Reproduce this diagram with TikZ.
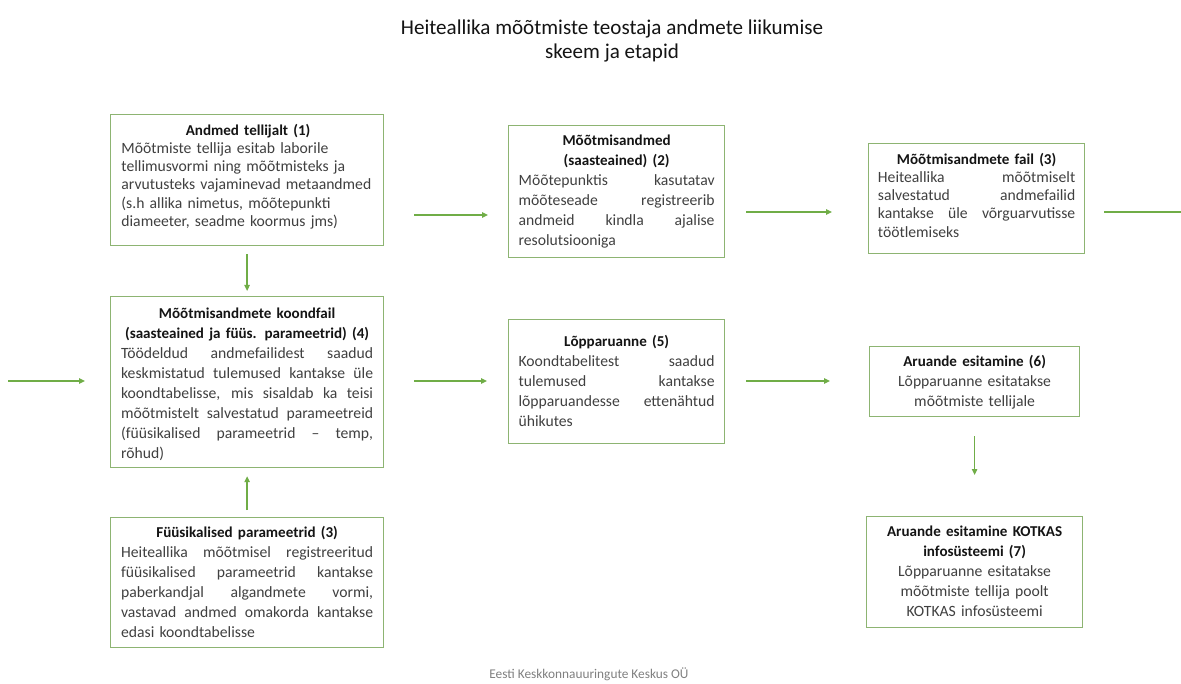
\documentclass[tikz,border=0pt]{standalone}
\usepackage{fontspec}
\setmainfont{Carlito}
\usetikzlibrary{arrows.meta,calc}
\definecolor{boxgreen}{HTML}{8DB472}
\definecolor{arrgreen}{HTML}{70AD47}
\definecolor{bodytext}{HTML}{404040}
\definecolor{headtext}{HTML}{141414}
\definecolor{foot}{HTML}{808080}
\newcommand{\hdg}[1]{{\centering\color{headtext}\fontsize{11.3}{\the\baselineskip}\selectfont\bfseries #1\par}}
\newcommand{\jl}[1]{\hbox to \hsize{\spaceskip=0.25em plus 3em\relax #1}}
\begin{document}
\begin{tikzpicture}[x=0.75pt,y=-0.75pt,
  stepbox/.style={draw=boxgreen, line width=0.9pt, inner sep=0pt, anchor=north west},
  boxtext/.style={anchor=north, inner sep=0pt, font=\fontsize{11.75}{13.7}\selectfont, text=bodytext},
  widetext/.style={boxtext, font=\fontsize{11.75}{15}\selectfont},
  arr/.style={draw=arrgreen, line width=1pt, -{Triangle[length=4.5pt,width=4pt]}},
  plainline/.style={draw=arrgreen, line width=1pt},
  ]
\useasboundingbox (0,0) rectangle (1181,684);
\fill[white] (0,0) rectangle (1181,684);

% title
\node[align=center, font=\fontsize{15.8}{18}\selectfont, text=headtext] (title) at (612,41)
  {Heiteallika mõõtmiste teostaja andmete liikumise\\skeem ja etapid};

% boxes
\node[stepbox, minimum width=204.75pt, minimum height=98.25pt] (b1) at (110,114) {};
\node[stepbox, minimum width=162pt, minimum height=99pt] (b2) at (508,125) {};
\node[stepbox, minimum width=162pt, minimum height=82.5pt] (b3) at (868,143) {};
\node[stepbox, minimum width=204.75pt, minimum height=128.25pt] (b4) at (110,296) {};
\node[stepbox, minimum width=204.75pt, minimum height=97.5pt] (bF) at (110,517) {};
\node[stepbox, minimum width=162pt, minimum height=93pt] (b5) at (508,319) {};
\node[stepbox, minimum width=157.5pt, minimum height=52.5pt] (b6) at (869,346) {};
\node[stepbox, minimum width=162pt, minimum height=83.25pt] (b7) at (866,516) {};

% texts
\node[boxtext, text width=190pt, align=left] (t1) at ([xshift=0.75pt, yshift=-6pt]b1.north)
  {\hdg{\strut Andmed tellijalt (1)}\raggedright
   Mõõtmiste tellija esitab laborile\\
   tellimusvormi ning mõõtmisteks ja\\
   arvutusteks vajaminevad metaandmed\\
   (s.h allika nimetus, mõõtepunkti\\
   diameeter, seadme koormus jms)};

\node[widetext, text width=147pt, align=left] (t2) at ([yshift=-5pt]b2.north)
  {\hdg{\strut Mõõtmisandmed\\(saasteained) (2)}%
   \jl{Mõõtepunktis kasutatav}
   \jl{mõõteseade registreerib}
   \jl{andmeid kindla ajalise}
   resolutsiooniga};

\node[boxtext, text width=148pt, align=left] (t3) at ([yshift=-6pt]b3.north)
  {\hdg{\strut Mõõtmisandmete fail (3)}%
   \jl{Heiteallika mõõtmiselt}
   \jl{salvestatud andmefailid}
   \jl{kantakse üle võrguarvutisse}
   töötlemiseks};

\node[widetext, text width=189pt, align=left] (t4) at ([yshift=-6pt]b4.north)
  {\hdg{\strut Mõõtmisandmete koondfail\\(saasteained ja füüs. parameetrid) (4)}%
   \jl{Töödeldud andmefailidest saadud}
   \jl{keskmistatud tulemused kantakse üle}
   \jl{koondtabelisse, mis sisaldab ka teisi}
   \jl{mõõtmistelt salvestatud parameetreid}
   \jl{(füüsikalised parameetrid -- temp,}
   rõhud)};

\node[widetext, text width=189pt, align=left] (tF) at ([yshift=-5pt]bF.north)
  {\hdg{\strut Füüsikalised parameetrid (3)}%
   \jl{Heiteallika mõõtmisel registreeritud}
   \jl{füüsikalised parameetrid kantakse}
   \jl{paberkandjal algandmete vormi,}
   \jl{vastavad andmed omakorda kantakse}
   edasi koondtabelisse};

\node[widetext, text width=147pt, align=left] (t5) at ([yshift=-10pt]b5.north)
  {\hdg{\strut Lõpparuanne (5)}%
   \jl{Koondtabelitest saadud}
   \jl{tulemused kantakse}
   \jl{lõpparuandesse ettenähtud}
   ühikutes};

\node[widetext, text width=150pt, align=center] (t6) at ([yshift=-5pt]b6.north)
  {\hdg{\strut Aruande esitamine (6)}%
   Lõpparuanne esitatakse\\
   mõõtmiste tellijale};

\node[widetext, text width=158pt, align=center] (t7) at ([yshift=-5pt]b7.north)
  {\hdg{\strut Aruande esitamine KOTKAS\\infosüsteemi (7)}%
   Lõpparuanne esitatakse\\
   mõõtmiste tellija poolt\\
   KOTKAS infosüsteemi};

% footer
\node[font=\fontsize{10}{12}\selectfont, text=foot] (foot) at (589,674) {Eesti Keskkonnauuringute Keskus OÜ};

% connectors
\coordinate (r1) at (0,215);
\coordinate (r2) at (0,212);
\coordinate (r3) at (0,381);
\coordinate (out3) at (1181,212);
\coordinate (in4) at (8,381);
\draw[arr, shorten <=22.5pt, shorten >=15pt] (b1.east|-r1) -- (b2.west|-r1);
\draw[arr, shorten <=15.75pt, shorten >=27pt] (b2.east|-r2) -- (b3.west|-r2);
\draw[plainline, shorten <=14.25pt] (b3.east|-r2) -- (out3);
\draw[arr, shorten >=18.75pt] (in4) -- (b4.west|-r3);
\draw[arr, shorten <=22.5pt, shorten >=15.75pt] (b4.east|-r3) -- (b5.west|-r3);
\draw[arr, shorten <=15.75pt, shorten >=29.25pt] (b5.east|-r3) -- (b6.west|-r3);
\draw[arr, shorten <=6pt, shorten >=3.75pt] (b1.south) -- (b4.north);
\draw[arr, shorten <=5.25pt, shorten >=6pt] (bF.north) -- (b4.south);
\draw[arr, shorten <=14.25pt, shorten >=30.75pt] (b6.south) -- (b7.north);
\end{tikzpicture}
\end{document}
